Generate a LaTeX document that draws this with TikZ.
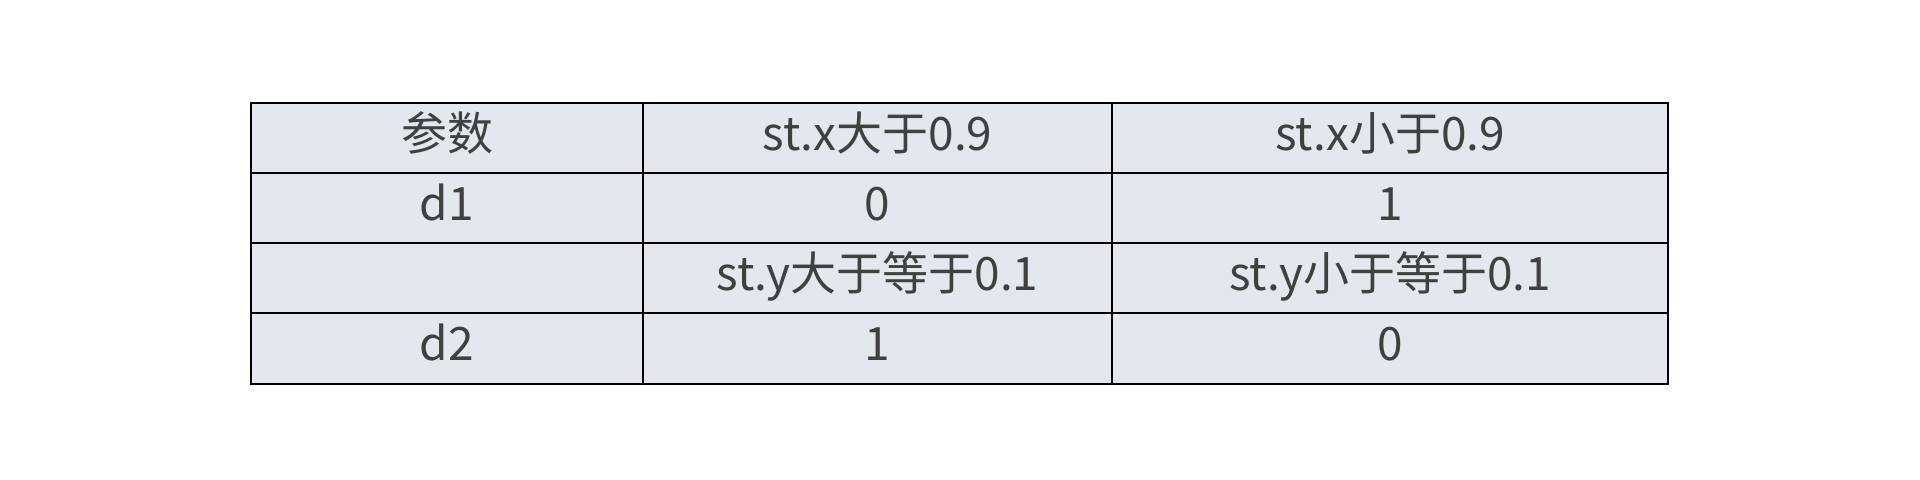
\documentclass[tikz,border=0pt]{standalone}
\usepackage{fontspec}
\setmainfont{Noto Sans CJK SC}
\definecolor{cellfill}{HTML}{E4E7EE}
\definecolor{celltext}{HTML}{404040}

\begin{document}
\begin{tikzpicture}[x=0.5pt,y=-0.5pt,
cell/.style={rectangle,draw=black,line width=1pt,fill=cellfill,text=celltext,minimum height=35pt,text height=17pt,text depth=5pt,inner sep=0pt,outer sep=0pt,font=\fontsize{23}{27}\selectfont},
cola/.style={cell,minimum width=196pt},
colb/.style={cell,minimum width=234.5pt},
colc/.style={cell,minimum width=278pt}]
\useasboundingbox (0,0) rectangle (1920,480);
%rows of the table
\path (447,138.5) node(pa) [cola]{参数}
      (877.5,138.5) node(pb) [colb]{st.x大于0.9}
      (1390,138.5) node(pc) [colc]{st.x小于0.9};
\path (447,208.5) node(da) [cola]{d1}
      (877.5,208.5) node(db) [colb]{0}
      (1390,208.5) node(dc) [colc]{1};
\path (447,278.5) node(ya) [cola]{}
      (877.5,278.5) node(yb) [colb]{st.y大于等于0.1}
      (1390,278.5) node(yc) [colc]{st.y小于等于0.1};
\path (447,348.5) node(ea) [cola]{d2}
      (877.5,348.5) node(eb) [colb]{1}
      (1390,348.5) node(ec) [colc]{0};
\end{tikzpicture}
\end{document}
